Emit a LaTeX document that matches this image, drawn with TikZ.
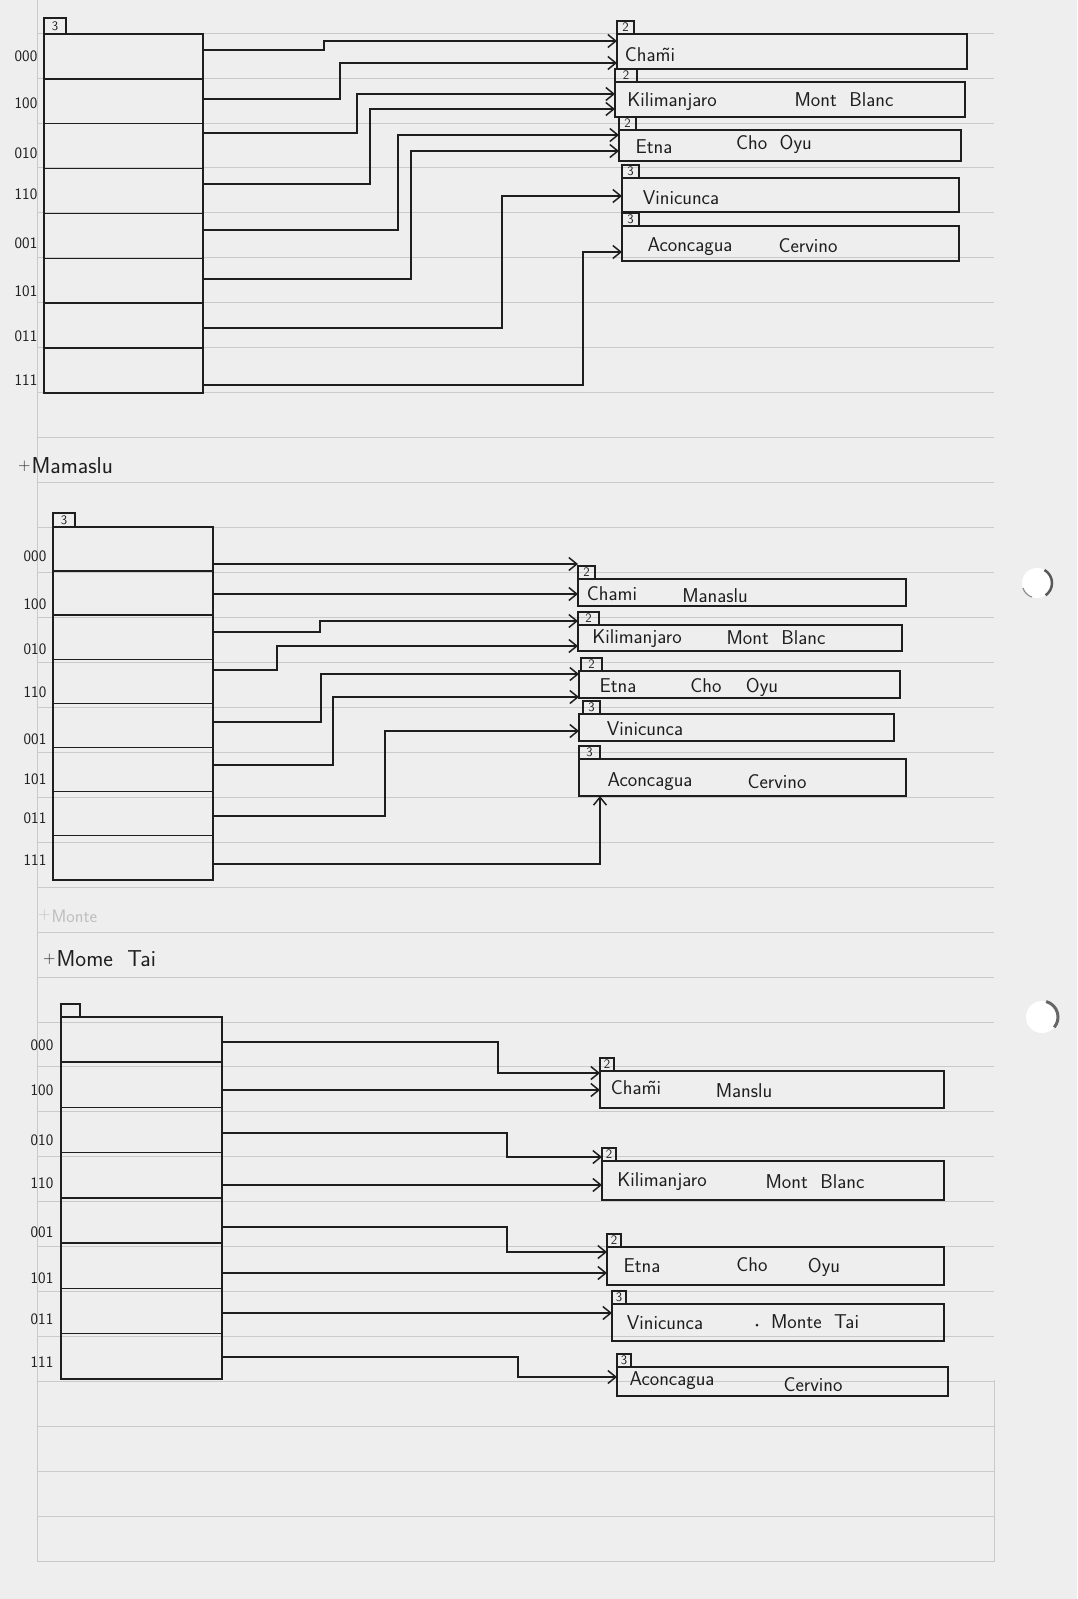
\documentclass[tikz,border=0pt]{standalone}
\usetikzlibrary{arrows.meta}
\definecolor{paperbg}{HTML}{EEEEEE}
\definecolor{inkc}{HTML}{1E1E1E}
\definecolor{rule}{HTML}{CACACA}
\newcommand{\smallplus}{\raisebox{3pt}{\fontsize{17}{17}\selectfont+}\kern1pt}
\begin{document}
\begin{tikzpicture}[x=1pt,y=-1pt,
  ink/.style={draw=inkc, line width=1.5pt},
  paper/.style={draw=rule, line width=0.8pt},
  ptr/.style={ink, -{Straight Barb[length=8pt,width=13pt]}},
  rowA/.style={ink, rectangle, inner sep=0, outer sep=0, minimum width=159pt, minimum height=44.875pt},
  rowB/.style={ink, rectangle, inner sep=0, outer sep=0, minimum width=160pt, minimum height=44.1pt},
  rowC/.style={ink, rectangle, inner sep=0, outer sep=0, minimum width=161pt, minimum height=45.25pt},
  bucket/.style={ink, rectangle, inner sep=0, outer sep=0, anchor=north west},
  depthbox/.style={draw=inkc, line width=1.2pt, rectangle, inner sep=0, outer sep=0,
    minimum width=17pt, minimum height=13pt, anchor=south west,
    font=\sffamily\fontsize{13}{13}\selectfont, text=inkc},
  hand/.style={font=\sffamily\fontsize{20}{24}\selectfont, text=inkc, inner sep=0},
  head/.style={font=\sffamily\fontsize{23}{26}\selectfont, text=inkc, inner sep=0, anchor=west},
  binlab/.style={font=\sffamily\fontsize{16}{18}\selectfont, text=inkc, inner sep=0}]

\useasboundingbox (0,0) rectangle (1077,1599);
\fill[paperbg] (0,0) rectangle (1077,1599);

% ruled sheet
\foreach \k in {0,...,34}
  \draw[paper] (38,{33+44.95*\k}) -- (994,{33+44.95*\k});
\draw[paper] (37,0) -- (37,1562);
\draw[paper] (994,1380) -- (994,1562);

% punched holes
\fill[white] (1037,583) circle (15);
\draw[black!65, line width=2.5pt] (1037,583) ++(-60:15) arc (-60:55:15);
\draw[black!45, line width=1.2pt] (1037,583) ++(110:15) arc (110:160:15);
\fill[white] (1042,1017) circle (16);
\draw[black!60, line width=3pt] (1042,1017) ++(-75:16) arc (-75:40:16);

% ================= first directory (depth 3) =================
\foreach \i in {0,...,7}
  \node[rowA] (a\i) at (123.5,{56.4+44.875*\i}) {};
\node[depthbox, minimum width=22pt, minimum height=16pt] (da) at (a0.north west) {3};
\foreach \lab/\yy [count=\i from 0] in {000/56,100/103,010/153,110/194,001/243,101/291,011/336,111/380}
  \node[binlab] (la\i) at (26,\yy) {\lab};

\node[bucket, minimum width=350pt, minimum height=35pt] (ba1) at (617,34) {};
\node[bucket, minimum width=350pt, minimum height=35pt] (ba2) at (615,82) {};
\node[bucket, minimum width=342pt, minimum height=31pt] (ba3) at (619,130) {};
\node[bucket, minimum width=337pt, minimum height=34pt] (ba4) at (622,178) {};
\node[bucket, minimum width=337pt, minimum height=35pt] (ba5) at (622,226) {};
\node[depthbox] (dba1) at (ba1.north west) {2};
\node[depthbox, minimum width=22pt] (dba2) at (ba2.north west) {2};
\node[depthbox] (dba3) at (ba3.north west) {2};
\node[depthbox] (dba4) at (ba4.north west) {3};
\node[depthbox] (dba5) at (ba5.north west) {3};

\node[hand] (ta11) at (650,55) {Cha\~{m}i};
\node[hand] (ta21) at (672,102) {Kilimanjaro};
\node[hand] (ta22) at (844,100) {Mont\ \ Blanc};
\node[hand] (ta31) at (654,147) {Etna};
\node[hand] (ta32) at (774,144) {Cho\ \ Oyu};
\node[hand] (ta41) at (681,198) {Vinicunca};
\node[hand] (ta51) at (690,247) {Aconcagua};
\node[hand] (ta52) at (808,246) {Cervino};

\draw[ptr] (a0.east |- 0,50)  -| (324,41)  -- (ba1.west |- 0,41);
\draw[ptr] (a1.east |- 0,99)  -| (340,63)  -- (ba1.west |- 0,63);
\draw[ptr] (a2.east |- 0,133) -| (357,94)  -- (ba2.west |- 0,94);
\draw[ptr] (a3.east |- 0,184) -| (370,109) -- (ba2.west |- 0,109);
\draw[ptr] (a4.east |- 0,230) -| (398,135) -- (ba3.west |- 0,135);
\draw[ptr] (a5.east |- 0,279) -| (411,151) -- (ba3.west |- 0,151);
\draw[ptr] (a6.east |- 0,328) -| (502,196) -- (ba4.west |- 0,196);
\draw[ptr] (a7.east |- 0,385) -| (583,252) -- (ba5.west |- 0,252);

% ================= after inserting Manaslu =================
\node[head] (hb) at (18,466) {\smallplus Mamaslu};

\foreach \i in {0,...,7}
  \node[rowB] (b\i) at (133,{549.05+44.1*\i}) {};
\node[depthbox, minimum width=22pt, minimum height=14pt] (db) at (b0.north west) {3};
\foreach \lab/\yy [count=\i from 0] in {000/556,100/604,010/649,110/692,001/739,101/779,011/818,111/860}
  \node[binlab] (lb\i) at (35,\yy) {\lab};

\node[bucket, minimum width=328pt, minimum height=27pt] (bb1) at (578,579) {};
\node[bucket, minimum width=324pt, minimum height=26pt] (bb2) at (578,625) {};
\node[bucket, minimum width=321pt, minimum height=27pt] (bb3) at (579,671) {};
\node[bucket, minimum width=315pt, minimum height=27pt] (bb4) at (579,714) {};
\node[bucket, minimum width=327pt, minimum height=37pt] (bb5) at (579,759) {};
\node[depthbox] (dbb1) at (bb1.north west) {2};
\node[depthbox, minimum width=21pt] (dbb2) at (bb2.north west) {2};
\node[depthbox, minimum width=21pt] (dbb3) at ([xshift=2pt]bb3.north west) {2};
\node[depthbox] (dbb4) at ([xshift=4pt]bb4.north west) {3};
\node[depthbox, minimum width=21pt] (dbb5) at (bb5.north west) {3};

\node[hand] (tb11) at (612,594) {Chami};
\node[hand] (tb12) at (715,596) {Manaslu};
\node[hand] (tb21) at (637,639) {Kilimanjaro};
\node[hand] (tb22) at (776,638) {Mont\ \ Blanc};
\node[hand] (tb31) at (618,686) {Etna};
\node[hand] (tb32) at (706,686) {Cho};
\node[hand] (tb33) at (762,687) {Oyu};
\node[hand] (tb41) at (645,729) {Vinicunca};
\node[hand] (tb51) at (650,782) {Aconcagua};
\node[hand] (tb52) at (777,782) {Cervino};

\draw[ptr] (b0.east |- 0,564) -- (bb1.west |- 0,564);
\draw[ptr] (b1.east |- 0,594) -- (bb1.west |- 0,594);
\draw[ptr] (b2.east |- 0,632) -| (320,621) -- (bb2.west |- 0,621);
\draw[ptr] (b3.east |- 0,670) -| (277,646) -- (bb2.west |- 0,646);
\draw[ptr] (b4.east |- 0,722) -| (321,674) -- (bb3.west |- 0,674);
\draw[ptr] (b5.east |- 0,765) -| (333,697) -- (bb3.west |- 0,697);
\draw[ptr] (b6.east |- 0,816) -| (385,731) -- (bb4.west |- 0,731);
\draw[ptr] (b7.east |- 0,864) -| (600,0 |- bb5.south);

% ================= after inserting Monte Tai =================
\node[head, text=black!25, font=\sffamily\fontsize{18}{20}\selectfont] (hx) at (38,916) {\smallplus Monte};
\node[head] (hc) at (43,959) {\smallplus Mome\ \ Tai};

\foreach \i in {0,...,7}
  \node[rowC] (c\i) at (141.5,{1039.6+45.25*\i}) {};
\node[depthbox, minimum width=19pt, minimum height=13pt] (dc) at (c0.north west) {};
\foreach \lab/\yy [count=\i from 0] in {000/1045,100/1090,010/1140,110/1183,001/1232,101/1278,011/1319,111/1362}
  \node[binlab] (lc\i) at (42,\yy) {\lab};

\node[bucket, minimum width=344pt, minimum height=37pt] (cb1) at (600,1071) {};
\node[bucket, minimum width=342pt, minimum height=39pt] (cb2) at (602,1161) {};
\node[bucket, minimum width=337pt, minimum height=38pt] (cb3) at (607,1247) {};
\node[bucket, minimum width=332pt, minimum height=37pt] (cb4) at (612,1304) {};
\node[bucket, minimum width=331pt, minimum height=29pt] (cb5) at (617,1367) {};
\node[depthbox, minimum width=14pt] (dcb1) at (cb1.north west) {2};
\node[depthbox, minimum width=14pt] (dcb2) at (cb2.north west) {2};
\node[depthbox, minimum width=14pt] (dcb3) at (cb3.north west) {2};
\node[depthbox, minimum width=14pt] (dcb4) at (cb4.north west) {3};
\node[depthbox, minimum width=14pt] (dcb5) at (cb5.north west) {3};

\node[hand] (tc11) at (636,1088) {Cha\~{m}i};
\node[hand] (tc12) at (744,1091) {Manslu};
\node[hand] (tc21) at (662,1182) {Kilimanjaro};
\node[hand] (tc22) at (815,1182) {Mont\ \ Blanc};
\node[hand] (tc31) at (642,1266) {Etna};
\node[hand] (tc32) at (752,1265) {Cho};
\node[hand] (tc33) at (824,1267) {Oyu};
\node[hand] (tc41) at (665,1323) {Vinicunca};
\fill[inkc] (757,1325) circle (1.5);
\node[hand] (tc42) at (815,1322) {Monte\ \ Tai};
\node[hand] (tc51) at (672,1381) {Aconcagua};
\node[hand] (tc52) at (813,1385) {Cervino};

\draw[ptr] (c0.east |- 0,1042) -| (498,1073) -- (cb1.west |- 0,1073);
\draw[ptr] (c1.east |- 0,1090) -- (cb1.west |- 0,1090);
\draw[ptr] (c2.east |- 0,1133) -| (507,1157) -- (cb2.west |- 0,1157);
\draw[ptr] (c3.east |- 0,1185) -- (cb2.west |- 0,1185);
\draw[ptr] (c4.east |- 0,1227) -| (507,1252) -- (cb3.west |- 0,1252);
\draw[ptr] (c5.east |- 0,1273) -- (cb3.west |- 0,1273);
\draw[ptr] (c6.east |- 0,1313) -- (cb4.west |- 0,1313);
\draw[ptr] (c7.east |- 0,1357) -| (518,1377) -- (cb5.west |- 0,1377);
\end{tikzpicture}
\end{document}
